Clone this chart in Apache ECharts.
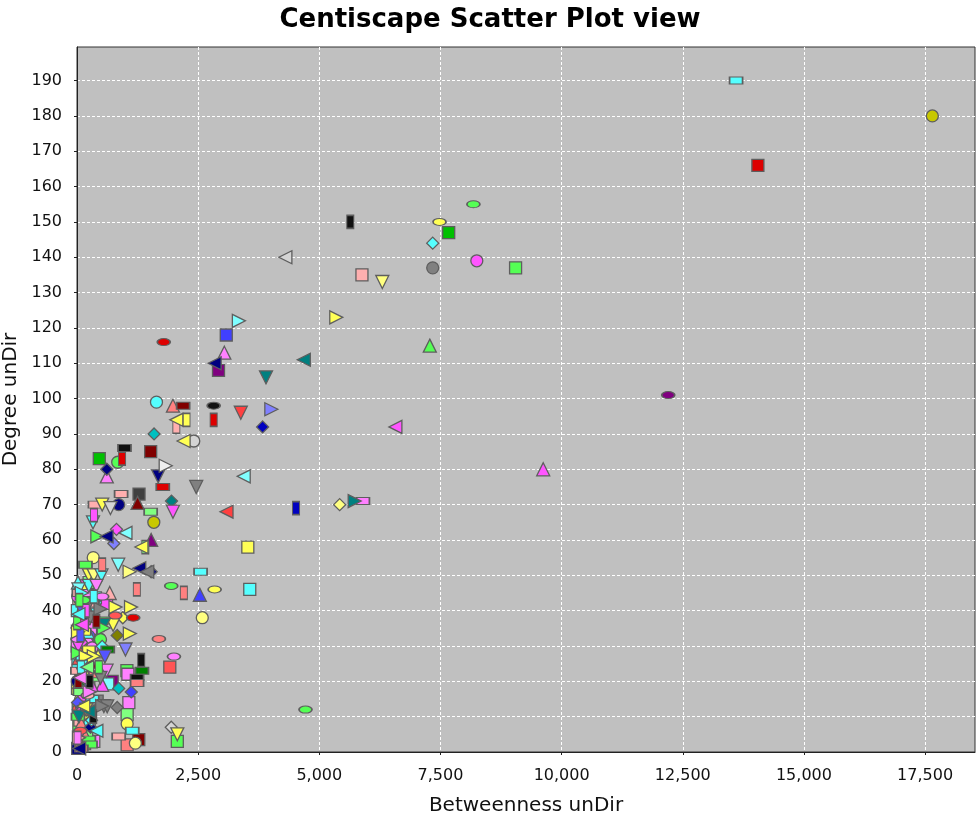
<!DOCTYPE html>
<html>
<head>
<meta charset="utf-8">
<title>Centiscape Scatter Plot view</title>
<script src="https://cdn.jsdelivr.net/npm/echarts@6/dist/echarts.min.js"></script>
<style>
html, body { margin: 0; padding: 0; background: #fff; }
#chart { width: 980px; height: 816px; }
</style>
</head>
<body>
<div id="chart"></div>
<script>
// [Betweenness unDir, Degree unDir] per node, grouped by the marker the plot gives them
var squares = [[14050,166],[7670,147],[9050,137],[5880,135],[3080,118],[2920,108],[1520,85],[460,83],[1280,73],[3525,58],
  [250,48],[3565,46],[610,42],[1915,24],[725,20],[1030,23],[1050,22],[1070,14],[1035,10.6],[2070,3],
  [1035,2],[1275,3.5],[295,39],[72,38.5],[360,33],[130,14],[15,1],[380,43.6],[38,41.7],[347,36.5],
  [72,30.9],[382,28.5],[244,19.1],[636,19.3],[416,14.4],[107,10.6],[38,7.7],[72,3.5],[347,3],[20,25],[10,18],
  [5,30],[25,12],[90,44],[150,28],[200,6],[120,47],[60,9],[180,17],[280,35],[8,40]];
var circles = [[17650,180],[8250,139],[7340,137],[1640,99],[2410,88],[840,82],[860,70],[1585,65],[335,55],[2585,38],
  [470,32],[244,32.8],[1035,8],[1205,2.5],[60,31],[107,33.4],[210,30.9],[313,29.5],[141,20],[72,14.8],
  [175,8.7],[485,31.8],[30,12],[15,44],[45,27],[100,3],[160,24],[230,44],[5,20],[90,13],[260,8],[130,40]];
var trianglesUp = [[7280,115],[9620,80],[3040,113],[1980,98],[615,78],[1250,70.5],[1530,60],[2535,44.5],[675,45],[520,19],
  [140,30],[280,25.5],[195,23],[175,41.7],[485,28.5],[38,26.6],[107,16.2],[107,5.8],[175,4.4],[20,48],[50,20],
  [10,37],[85,8],[220,34],[300,19],[150,46],[60,33]];
var trianglesDown = [[6300,133],[3900,106],[3380,96],[1675,78],[2460,75],[520,70],[690,69],[1980,68],[330,65],[245,50],
  [345,50],[505,50],[850,53],[745,36],[1000,29],[555,36],[575,27],[610,23],[2070,5],[245,47],
  [555,13],[245,42],[485,21],[623,12.9],[86,40.5],[40,10],[25,30],[120,22],[190,12],[270,38],[30,46],[400,47]];
var trianglesRight = [[5350,123],[3340,122],[4010,97],[1830,81],[5730,71],[420,61],[1085,51],[795,41],[1115,41],[1090,33.5],
  [520,13],[485,40.5],[553,35.1],[347,27.1],[20,34],[15,28],[100,45],[180,27],[260,17],[40,4]];
var trianglesLeft = [[4300,140],[4680,111],[2840,110],[6570,92],[2050,94],[2200,88],[3440,78],[3085,68],[610,61],[1000,62],
  [1330,58],[1285,52],[1450,51],[400,6],[244,11.5],[60,21],[30,39],[130,13],[210,24],[100,36],[45,1]];
var diamonds = [[7340,144],[5420,70],[3830,92],[1590,90],[615,80],[1950,71],[815,63],[760,59],[1530,51],[945,38],
  [830,33],[860,18],[1120,17],[830,12.6],[1945,7],[280,7],[380,43],[210,39.4],[520,29.9],[107,25.7],[72,21.9],[244,15.8],
  [12,14],[95,31],[170,37],[300,9],[40,18]];
var hBars = [[13600,190],[5900,71],[2190,98],[980,86],[1770,75],[910,73],[370,70],[1520,68],[175,53],[2550,51],
  [1340,23],[1240,21],[1240,19.5],[335,21],[380,22],[1140,6],[860,4.4],[155,45],[635,29],[315,15],
  [245,3.5],[38,45],[553,37.2],[244,29],[210,11.5],[141,1.6],[279,2.1],[313,42],
  [8,23],[60,17],[110,27],[200,45],[20,10],[150,34],[90,1]];
var vBars = [[5640,150],[2050,92],[2260,94],[2820,94],[930,83],[4520,69],[350,67],[1410,58],[520,53],[1235,46],
  [2205,45],[1325,26],[345,44],[400,37],[450,24],[70,33],[335,10],[3,36.5],[12,4],
  [30,20],[80,24],[180,40],[50,43],[260,20]];
var ellipses = [[8180,155],[7480,150],[12200,101],[1790,116],[2820,98],[1945,47],[2840,46],[1690,32],[2000,27],[4715,12],
  [1160,38],[790,38.6],[520,44],[141,36.5],[10,32],[70,6],[140,43],[220,16]];

var xTicks = [0, 2500, 5000, 7500, 10000, 12500, 15000, 17500];
var yTicks = [0, 10, 20, 30, 40, 50, 60, 70, 80, 90, 100, 110, 120, 130, 140, 150, 160, 170, 180, 190];

// fill colour of each node, same order as the point lists above
var pal = {
  r:'#ff5555', dr:'#dd0000', lr:'#ff4040', vlr:'#ff8080', vdr:'#800000',
  b:'#5555ff', lb:'#4040ff', vlb:'#8080ff', db:'#0000c0', vdb:'#000080',
  g:'#55ff55', dg:'#00c000', vlg:'#80ff80', vdg:'#008000',
  y:'#ffff55', dy:'#c8c800', vly:'#ffff80', vdy:'#808000',
  m:'#ff55ff', vlm:'#ff80ff', vdm:'#800080',
  c:'#55ffff', vlc:'#80ffff', dc:'#00c0c0', vdc:'#008080',
  pk:'#ffafaf', gy:'#808080', dk:'#404040', lgy:'#d4d4d4', w:'#eeeeee', k:'#111111'
};
var squareCols = ('dr dg g pk lb vdm vdr dg dk y vlg c m r vdm g vlm vlm vlg g vlr vdr c vlm m vlm vdb c pk vlm m vdm g vlc gy b g g vlm c y ' +
  'vlm g c y vlg m pk b vlm c').split(' ');
var circleCols = 'dy m gy c lgy g vdb dy vly vly g b y vly vlm b vlm vlm b y y g r m c vlm g y vdb m c vly'.split(' ');
var upCols = 'g m vlm vlr vlm vdr vdm lb pk m r vdr y g y r m m vlr c vdg g vlr c m y vlm'.split(' ');
var downCols = 'vly vdc lr vdb gy y lgy m c y vly c vlc y vlb vdc b vlm y c gy gy gy gy b vdc m c y gy vlc vlm'.split(' ');
var rightCols = 'y vlc vlb w vdc g vly y y y gy gy g y y g c y vlm pk'.split(' ');
var leftCols = 'lgy vdc vdb m y y vlc lr vdb vlc y vdb gy c vdc vlm c y vlg m vdb'.split(' ');
var diamondCols = 'c vly db dc vdb vdc m vlb vdb y vdy dc lb gy lgy vdb vdc vlm c c m c b m vdb c vlm'.split(' ');
var hBarCols = 'c vlm vdr k dr pk pk vlg g c vdg k vlr vlg vlr c pk pk vdg c g pk g y vlr vlr g pk pk vlg c vlm g y vlr'.split(' ');
var vBarCols = 'k pk y dr dr db m vlg vlr vlr vlr k c vdr g b k g vlm vdr c m g k'.split(' ');
var ellipseCols = 'g y vdm dr k g y vlr vlm g dr r vlm m vlm r g pk'.split(' ');

function shapeSeries(name, pts, cols, symbol, size) {
  return {
    type: 'scatter',
    name: name,
    data: pts,
    symbol: symbol,
    symbolSize: size,
    itemStyle: {
      color: function (p) { return pal[cols[p.dataIndex]] || '#888'; },
      borderColor: '#5e5e5e',
      borderWidth: 1.3,
      opacity: 1
    },
    emphasis: { disabled: true }
  };
}

var chart = echarts.init(document.getElementById('chart'));
var option = {
  animation: false,
  backgroundColor: '#ffffff',
  title: {
    text: 'Centiscape Scatter Plot view',
    left: 'center',
    top: 2,
    textStyle: { fontFamily: 'DejaVu Sans', fontWeight: 'bold', fontSize: 26, color: '#000' }
  },
  grid: {
    left: 77, right: 5, top: 47, bottom: 64,
    outerBoundsMode: 'none',
    containLabel: false,
    show: true,
    backgroundColor: '#c0c0c0',
    borderColor: '#333',
    borderWidth: 1
  },
  xAxis: {
    type: 'value',
    min: 0, max: 18530, interval: 2500,
    offset: 6,
    name: 'Betweenness unDir',
    nameLocation: 'middle',
    nameGap: 38,
    nameTextStyle: { fontFamily: 'DejaVu Sans', fontSize: 20, color: '#111' },
    axisLine: { show: true, lineStyle: { color: '#222', width: 1 } },
    axisTick: { show: true, length: 3, lineStyle: { color: '#222' } },
    axisLabel: {
      fontFamily: 'DejaVu Sans', fontSize: 16, color: '#111', margin: 10,
      showMaxLabel: false,
      formatter: function (v) { return xTicks.indexOf(v) >= 0 ? v.toLocaleString('en-US') : ''; }
    },
    splitLine: { show: true, showMinLine: false, showMaxLine: false, lineStyle: { color: '#ffffff', type: [3, 2], width: 1 } }
  },
  yAxis: {
    type: 'value',
    min: 0, max: 199.5, interval: 10,
    offset: 6,
    name: 'Degree unDir',
    nameLocation: 'middle',
    nameGap: 46,
    nameTextStyle: { fontFamily: 'DejaVu Sans', fontSize: 20, color: '#111' },
    axisLine: { show: true, lineStyle: { color: '#222', width: 1 } },
    axisTick: { show: true, length: 3, lineStyle: { color: '#222' } },
    axisLabel: {
      fontFamily: 'DejaVu Sans', fontSize: 16, color: '#111', margin: 9,
      showMaxLabel: false,
      formatter: function (v) { return yTicks.indexOf(v) >= 0 ? String(v) : ''; }
    },
    splitLine: { show: true, showMinLine: false, showMaxLine: false, lineStyle: { color: '#ffffff', type: [3, 2], width: 1 } }
  },
  series: [
    shapeSeries('square', squares, squareCols, 'rect', 12),
    shapeSeries('circle', circles, circleCols, 'circle', 12),
    shapeSeries('triangle up', trianglesUp, upCols, 'triangle', 13),
    shapeSeries('diamond', diamonds, diamondCols, 'diamond', 12),
    shapeSeries('horizontal bar', hBars, hBarCols, 'rect', [13, 7]),
    shapeSeries('triangle down', trianglesDown, downCols, 'path://M0,0 L10,0 L5,10 Z', 13),
    shapeSeries('ellipse', ellipses, ellipseCols, 'circle', [13, 7]),
    shapeSeries('triangle right', trianglesRight, rightCols, 'path://M0,0 L10,5 L0,10 Z', 13),
    shapeSeries('vertical bar', vBars, vBarCols, 'rect', [7, 13]),
    shapeSeries('triangle left', trianglesLeft, leftCols, 'path://M10,0 L10,10 L0,5 Z', 13)
  ]
};
chart.setOption(option);
</script>
</body>
</html>
